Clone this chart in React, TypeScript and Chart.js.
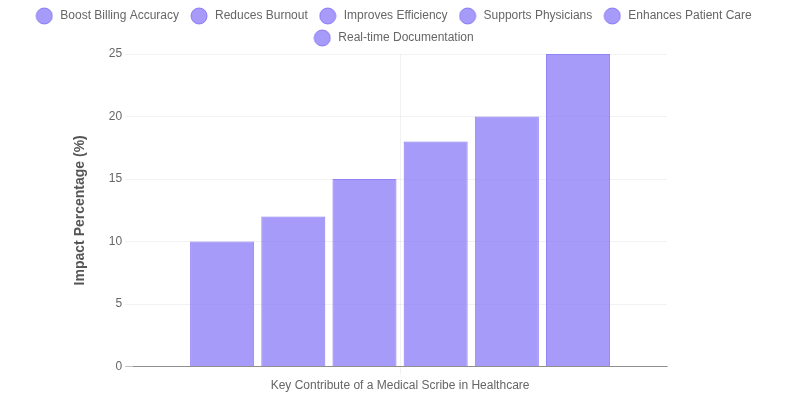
import React, { useEffect, useRef } from 'react';
import { Chart, registerables } from 'chart.js';

Chart.register(...registerables);

const contributions = [
  'Boost Billing Accuracy',
  'Reduces Burnout',
  'Improves Efficiency',
  'Supports Physicians',
  'Enhances Patient Care',
  'Real-time Documentation',
];
const impactValues = [10, 12, 15, 18, 20, 25];
const categoryLabels = [''];

const FILL = 'rgba(128, 112, 245, 0.7)';
const STROKE = 'rgba(128, 112, 245, 0.85)';
const FONT = "'Liberation Sans', Arial, Helvetica, sans-serif";
const GRID = 'rgba(0,0,0,0.05)';
const AXIS = 'rgba(0,0,0,0.25)';

// round legend marker, a bit narrower than its box
function makeDot(): HTMLCanvasElement {
  const dot = document.createElement('canvas');
  dot.width = 18;
  dot.height = 18;
  const g = dot.getContext('2d');
  if (g) {
    g.beginPath();
    g.arc(9, 9, 8, 0, Math.PI * 2);
    g.fillStyle = FILL;
    g.fill();
    g.lineWidth = 1;
    g.strokeStyle = STROKE;
    g.stroke();
  }
  return dot;
}

const App: React.FC = () => {
  const chartRef = useRef<HTMLCanvasElement>(null);
  const chartInstance = useRef<Chart | null>(null);

  useEffect(() => {
    document.body.style.margin = '0';
    if (!chartRef.current) return;
    if (chartInstance.current) chartInstance.current.destroy();

    const ctx = chartRef.current.getContext('2d');
    if (!ctx) return;

    chartInstance.current = new Chart(ctx, {
      type: 'bar',
      data: {
        labels: categoryLabels,
        datasets: contributions.map((name, i) => ({
          label: name,
          data: [impactValues[i]],
          backgroundColor: FILL,
          borderColor: STROKE,
          borderWidth: 1,
        })),
      },
      options: {
        responsive: true,
        maintainAspectRatio: false,
        animation: false,
        font: { family: FONT },
        layout: { padding: { left: 20, right: 34, top: 0, bottom: 3 } },
        plugins: {
          legend: {
            position: 'top',
            labels: {
              usePointStyle: true,
              pointStyle: makeDot(),
              pointStyleWidth: 20,
              color: '#666',
              padding: 10,
              font: { family: FONT, size: 12 },
            },
          },
          tooltip: { enabled: false },
        },
        scales: {
          x: {
            ticks: { display: false },
            grid: { offset: false, color: GRID },
            border: { color: AXIS },
            title: {
              display: true,
              text: 'Key Contribute of a Medical Scribe in Healthcare',
              color: '#666',
              font: { family: FONT, size: 12 },
            },
          },
          y: {
            min: 0,
            max: 25,
            ticks: { stepSize: 5, color: '#666', font: { family: FONT, size: 12 } },
            grid: { color: (c: any) => (c.tick && c.tick.value === 0 ? AXIS : GRID) },
            border: { display: false },
            title: {
              display: true,
              text: 'Impact Percentage (%)',
              color: '#555',
              padding: { top: 52, bottom: 17 },
              font: { family: FONT, size: 14, weight: 'bold' },
            },
          },
          y2: {
            position: 'right',
            ticks: { display: false },
            grid: { display: false },
            border: { display: false },
            afterFit: (scale: any) => {
              scale.width = 99;
            },
          },
        },
      } as any,
    });

    return () => {
      if (chartInstance.current) {
        chartInstance.current.destroy();
        chartInstance.current = null;
      }
    };
  }, []);

  return (
    <div style={{ width: '800px', height: '400px', position: 'relative' }}>
      <canvas ref={chartRef}></canvas>
    </div>
  );
};

export default App;
